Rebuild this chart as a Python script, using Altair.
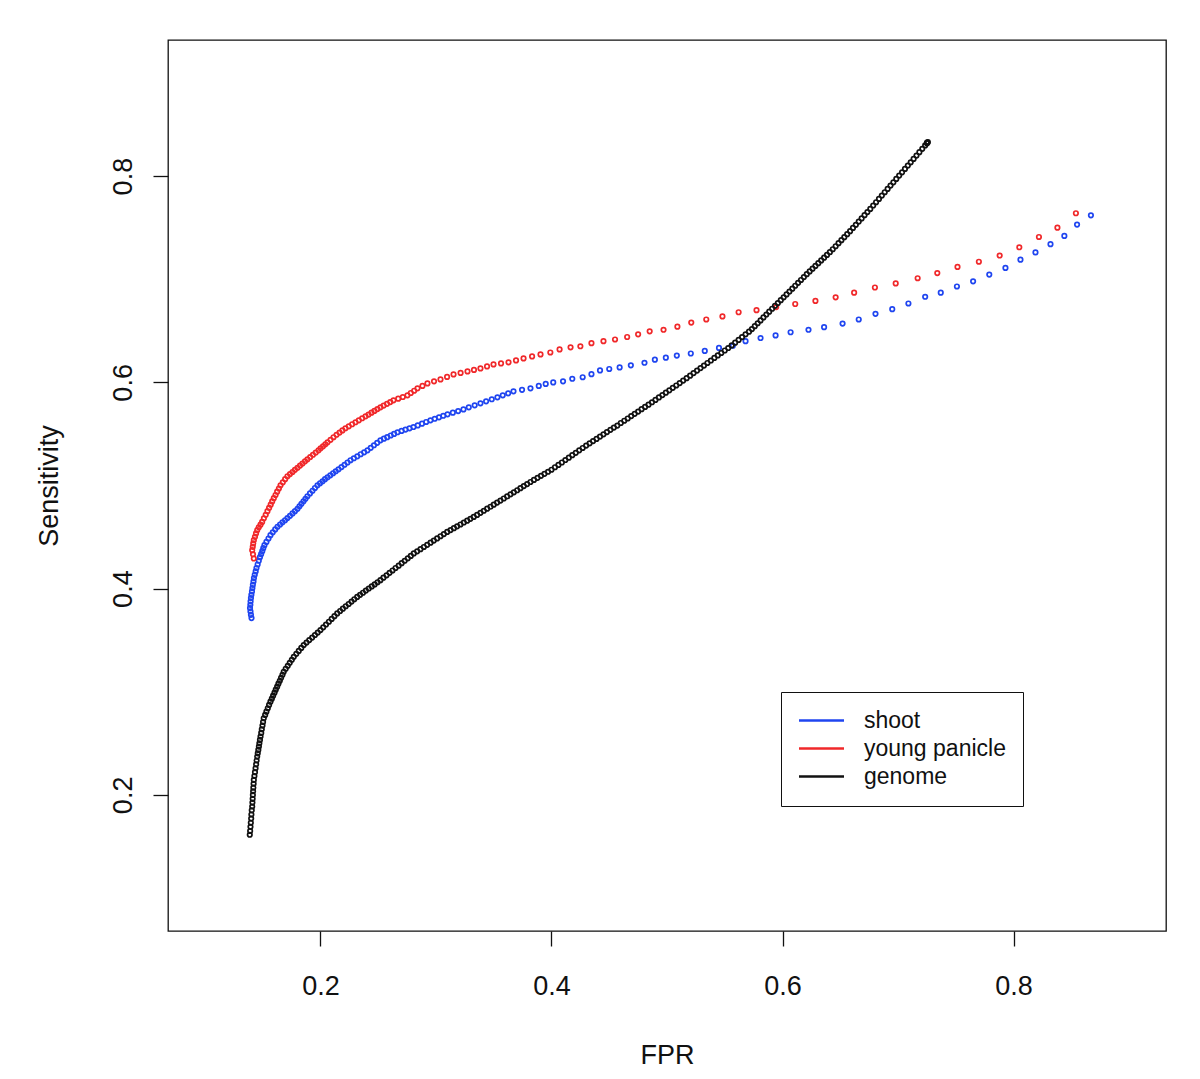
import altair as alt
import pandas as pd

# ---------------- data ----------------
series_names = ["shoot", "young panicle", "genome"]
series_colors = ["#1f45f0", "#f0282a", "#111111"]

genome_fpr = [
    0.1388, 0.1391, 0.1394, 0.1397, 0.1400, 0.1402, 0.1405, 0.1409, 0.1411, 0.1413,
    0.1415, 0.1417, 0.1419, 0.1421, 0.1423, 0.1428, 0.1433, 0.1438, 0.1443, 0.1447,
    0.1452, 0.1457, 0.1462, 0.1467, 0.1471, 0.1476, 0.1481, 0.1487, 0.1492, 0.1498,
    0.1503, 0.1509, 0.1521, 0.1532, 0.1544, 0.1555, 0.1567, 0.1579, 0.1590, 0.1602,
    0.1613, 0.1625, 0.1636, 0.1648, 0.1659, 0.1671, 0.1682, 0.1699, 0.1717, 0.1734,
    0.1752, 0.1769, 0.1791, 0.1812, 0.1834, 0.1855, 0.1879, 0.1903, 0.1928, 0.1952,
    0.1976, 0.2000, 0.2024, 0.2048, 0.2073, 0.2097, 0.2121, 0.2145, 0.2170, 0.2194,
    0.2219, 0.2244, 0.2269, 0.2293, 0.2318, 0.2343, 0.2368, 0.2393, 0.2418, 0.2444,
    0.2469, 0.2494, 0.2519, 0.2545, 0.2572, 0.2598, 0.2624, 0.2650, 0.2677, 0.2703,
    0.2729, 0.2756, 0.2782, 0.2808, 0.2837, 0.2866, 0.2895, 0.2924, 0.2953, 0.2981,
    0.3010, 0.3039, 0.3068, 0.3097, 0.3126, 0.3155, 0.3183, 0.3212, 0.3241, 0.3270,
    0.3298, 0.3327, 0.3356, 0.3385, 0.3414, 0.3443, 0.3472, 0.3500, 0.3529, 0.3558,
    0.3587, 0.3616, 0.3645, 0.3674, 0.3703, 0.3731, 0.3760, 0.3789, 0.3818, 0.3848,
    0.3879, 0.3909, 0.3939, 0.3970,
    0.400, 0.403, 0.406, 0.409, 0.412, 0.415, 0.418, 0.421, 0.424, 0.427,
    0.430, 0.433, 0.436, 0.439, 0.442, 0.445, 0.448, 0.451, 0.454, 0.457,
    0.460, 0.463, 0.466, 0.469, 0.472, 0.475, 0.478, 0.481, 0.484, 0.487,
    0.490, 0.493, 0.496, 0.499, 0.502, 0.505, 0.508, 0.511, 0.514, 0.517,
    0.520, 0.523, 0.526, 0.529, 0.532, 0.535, 0.538, 0.541, 0.544, 0.547,
    0.550, 0.553, 0.556, 0.559, 0.562, 0.565, 0.568, 0.571, 0.5735, 0.576,
    0.5785, 0.581, 0.5835, 0.586, 0.5885, 0.591, 0.5935, 0.596, 0.5985, 0.601,
    0.6035, 0.606, 0.6085, 0.611, 0.6135, 0.616, 0.6185, 0.621, 0.6235, 0.626,
    0.6285, 0.631, 0.6335, 0.636, 0.6385, 0.641, 0.6435, 0.646, 0.6485, 0.651,
    0.6535, 0.656, 0.6585, 0.661, 0.6635, 0.666, 0.6685, 0.671, 0.6735, 0.676,
    0.6785, 0.681, 0.6835, 0.686, 0.6885, 0.691, 0.6935, 0.696, 0.6985, 0.701,
    0.7035, 0.706, 0.7085, 0.711, 0.7135, 0.716, 0.7185, 0.721, 0.7235, 0.7255,
    0.7250, 0.7258, 0.7252,
]
genome_sens = [
    0.1613, 0.1650, 0.1690, 0.1730, 0.1770, 0.1810, 0.1850, 0.1887, 0.1925, 0.1962,
    0.2000, 0.2035, 0.2070, 0.2108, 0.2145, 0.2183, 0.2220, 0.2258, 0.2296, 0.2333,
    0.2371, 0.2403, 0.2436, 0.2468, 0.2500, 0.2533, 0.2565, 0.2601, 0.2636, 0.2672,
    0.2707, 0.2743, 0.2775, 0.2807, 0.2840, 0.2872, 0.2904, 0.2933, 0.2962, 0.2991,
    0.3020, 0.3049, 0.3078, 0.3107, 0.3136, 0.3165, 0.3194, 0.3223, 0.3252, 0.3281,
    0.3310, 0.3339, 0.3368, 0.3396, 0.3425, 0.3453, 0.3477, 0.3501, 0.3525, 0.3550,
    0.3574, 0.3598, 0.3625, 0.3652, 0.3679, 0.3706, 0.3733, 0.3760, 0.3783, 0.3806,
    0.3829, 0.3851, 0.3874, 0.3897, 0.3920, 0.3940, 0.3960, 0.3981, 0.4001, 0.4021,
    0.4041, 0.4062, 0.4082, 0.4106, 0.4129, 0.4153, 0.4176, 0.4200, 0.4223, 0.4247,
    0.4270, 0.4294, 0.4317, 0.4341, 0.4362, 0.4383, 0.4404, 0.4425, 0.4446, 0.4466,
    0.4487, 0.4508, 0.4529, 0.4550, 0.4568, 0.4586, 0.4604, 0.4622, 0.4641, 0.4659,
    0.4677, 0.4695, 0.4715, 0.4735, 0.4755, 0.4775, 0.4794, 0.4814, 0.4834, 0.4854,
    0.4874, 0.4894, 0.4914, 0.4934, 0.4954, 0.4974, 0.4994, 0.5014, 0.5034, 0.5054,
    0.5074, 0.5094, 0.5113, 0.5133,
    0.5153, 0.5177, 0.5200, 0.5223, 0.5247, 0.5270, 0.5294, 0.5317, 0.5341, 0.5364,
    0.5387, 0.5409, 0.5431, 0.5452, 0.5474, 0.5496, 0.5518, 0.5540, 0.5562, 0.5581,
    0.5606, 0.5628, 0.5650, 0.5673, 0.5695, 0.5717, 0.5740, 0.5762, 0.5784, 0.5807,
    0.5830, 0.5854, 0.5877, 0.5900, 0.5923, 0.5947, 0.5970, 0.5993, 0.6017, 0.6041,
    0.6065, 0.6090, 0.6114, 0.6139, 0.6163, 0.6188, 0.6212, 0.6237, 0.6261, 0.6285,
    0.6309, 0.6333, 0.6358, 0.6385, 0.6412, 0.6439, 0.6466, 0.6492, 0.6517, 0.6545,
    0.6573, 0.6601, 0.6630, 0.6658, 0.6686, 0.6714, 0.6742, 0.6769, 0.6797, 0.6825,
    0.6853, 0.6881, 0.6909, 0.6937, 0.6965, 0.6993, 0.7021, 0.7049, 0.7076, 0.7103,
    0.7129, 0.7156, 0.7183, 0.7209, 0.7236, 0.7263, 0.7291, 0.7320, 0.7350, 0.7379,
    0.7408, 0.7437, 0.7466, 0.7498, 0.7528, 0.7559, 0.7590, 0.7621, 0.7651, 0.7682,
    0.7715, 0.7747, 0.7779, 0.7811, 0.7844, 0.7876, 0.7908, 0.7940, 0.7973, 0.8005,
    0.8037, 0.8070, 0.8102, 0.8134, 0.8167, 0.8199, 0.8232, 0.8265, 0.8298, 0.8324,
    0.8320, 0.8330, 0.8326,
]

shoot_fpr = [
    0.1403, 0.1398, 0.1394, 0.1390, 0.1393, 0.1395, 0.1398, 0.1402, 0.1407, 0.1411,
    0.1415, 0.1420, 0.1424, 0.1431, 0.1439, 0.1446, 0.1456, 0.1466, 0.1476, 0.1486,
    0.1496, 0.1505, 0.1515, 0.1532, 0.1550, 0.1567, 0.1587, 0.1608, 0.1628, 0.1650,
    0.1671, 0.1693, 0.1714, 0.1736, 0.1758, 0.1779, 0.1801, 0.1818, 0.1835, 0.1853,
    0.1870, 0.1887, 0.1909, 0.1931, 0.1952, 0.1974, 0.1996, 0.2018, 0.2039, 0.2061,
    0.2085, 0.2109, 0.2132, 0.2156, 0.2182, 0.2208, 0.2234, 0.2260, 0.2289, 0.2319,
    0.2348, 0.2378, 0.2407, 0.2435, 0.2463, 0.2491, 0.2519, 0.2549, 0.2578, 0.2608,
    0.2637, 0.2667, 0.2702, 0.2736, 0.2771, 0.2805, 0.2842, 0.2879, 0.2915, 0.2952,
    0.2989, 0.3026, 0.3063, 0.3100, 0.3146, 0.3192, 0.3238, 0.3284, 0.3335, 0.3385,
    0.3434, 0.3483, 0.3532, 0.3578, 0.3625, 0.3671, 0.3745, 0.3818, 0.3890, 0.3950,
    0.4015, 0.4100, 0.4180, 0.4270, 0.4346, 0.4420, 0.4500, 0.4590, 0.4687, 0.4805,
    0.4895, 0.4990, 0.5085, 0.5206, 0.5327, 0.5450, 0.5570, 0.5680, 0.5810, 0.5940,
    0.6070, 0.6225, 0.6360, 0.6520, 0.6660, 0.6805, 0.6950, 0.7090, 0.7235, 0.7370,
    0.7510, 0.7650, 0.7790, 0.7930, 0.8060, 0.8190, 0.8320, 0.8440, 0.8550, 0.8670,
]
shoot_sens = [
    0.3714, 0.3746, 0.3779, 0.3811, 0.3843, 0.3876, 0.3908, 0.3940, 0.3973, 0.4005,
    0.4037, 0.4070, 0.4102, 0.4134, 0.4167, 0.4199, 0.4234, 0.4270, 0.4305, 0.4334,
    0.4363, 0.4392, 0.4421, 0.4453, 0.4486, 0.4518, 0.4546, 0.4574, 0.4600, 0.4622,
    0.4643, 0.4663, 0.4684, 0.4706, 0.4729, 0.4751, 0.4774, 0.4798, 0.4822, 0.4847,
    0.4871, 0.4896, 0.4923, 0.4949, 0.4976, 0.5002, 0.5022, 0.5041, 0.5061, 0.5080,
    0.5099, 0.5119, 0.5138, 0.5157, 0.5179, 0.5201, 0.5223, 0.5245, 0.5264, 0.5283,
    0.5303, 0.5322, 0.5341, 0.5365, 0.5390, 0.5414, 0.5438, 0.5454, 0.5469, 0.5485,
    0.5500, 0.5516, 0.5529, 0.5542, 0.5554, 0.5567, 0.5583, 0.5600, 0.5616, 0.5632,
    0.5647, 0.5661, 0.5676, 0.5690, 0.5706, 0.5722, 0.5738, 0.5758, 0.5777, 0.5797,
    0.5816, 0.5836, 0.5855, 0.5874, 0.5894, 0.5913, 0.5928, 0.5942, 0.5966, 0.5985,
    0.6000, 0.6010, 0.6035, 0.6050, 0.6080, 0.6116, 0.6130, 0.6145, 0.6165, 0.6190,
    0.6220, 0.6240, 0.6260, 0.6280, 0.6305, 0.6334, 0.6355, 0.6400, 0.6430, 0.6455,
    0.6486, 0.6510, 0.6535, 0.6570, 0.6610, 0.6665, 0.6710, 0.6765, 0.6830, 0.6870,
    0.6930, 0.6980, 0.7045, 0.7110, 0.7190, 0.7260, 0.7340, 0.7420, 0.7530, 0.7620,
]

panicle_fpr = [
    0.1423, 0.1416, 0.1409, 0.1414, 0.1418, 0.1423, 0.1433, 0.1442, 0.1452, 0.1466,
    0.1481, 0.1495, 0.1510, 0.1526, 0.1541, 0.1555, 0.1569, 0.1582, 0.1596, 0.1611,
    0.1625, 0.1640, 0.1654, 0.1674, 0.1694, 0.1714, 0.1736, 0.1758, 0.1779, 0.1801,
    0.1823, 0.1844, 0.1866, 0.1887, 0.1911, 0.1935, 0.1959, 0.1983, 0.2001, 0.2022,
    0.2042, 0.2061, 0.2087, 0.2113, 0.2139, 0.2165, 0.2190, 0.2216, 0.2245, 0.2274,
    0.2303, 0.2332, 0.2361, 0.2390, 0.2416, 0.2442, 0.2467, 0.2493, 0.2519, 0.2547,
    0.2576, 0.2604, 0.2632, 0.2673, 0.2713, 0.2753, 0.2782, 0.2811, 0.2840, 0.2883,
    0.2926, 0.2983, 0.3039, 0.3096, 0.3152, 0.3213, 0.3273, 0.3329, 0.3385, 0.3442,
    0.3498, 0.3563, 0.3628, 0.3693, 0.3758, 0.3832, 0.3905,
    0.3990, 0.4070, 0.4165, 0.4250, 0.4346, 0.4450, 0.4550, 0.4655, 0.4750, 0.4850,
    0.4970, 0.5090, 0.5210, 0.5340, 0.5480, 0.5620, 0.5775, 0.5945, 0.6110, 0.6285,
    0.6460, 0.6620, 0.6800, 0.6980, 0.7170, 0.7340, 0.7515, 0.7700, 0.7880, 0.8050,
    0.8220, 0.8380, 0.8540,
]
panicle_sens = [
    0.4292, 0.4333, 0.4373, 0.4405, 0.4438, 0.4470, 0.4502, 0.4535, 0.4567, 0.4594,
    0.4620, 0.4647, 0.4682, 0.4716, 0.4751, 0.4783, 0.4814, 0.4846, 0.4877, 0.4908,
    0.4940, 0.4971, 0.5002, 0.5031, 0.5061, 0.5090, 0.5111, 0.5131, 0.5152, 0.5172,
    0.5193, 0.5213, 0.5234, 0.5254, 0.5276, 0.5298, 0.5319, 0.5341, 0.5361, 0.5380,
    0.5400, 0.5419, 0.5443, 0.5468, 0.5492, 0.5513, 0.5534, 0.5555, 0.5574, 0.5594,
    0.5613, 0.5632, 0.5652, 0.5671, 0.5688, 0.5706, 0.5723, 0.5741, 0.5758, 0.5775,
    0.5792, 0.5809, 0.5826, 0.5842, 0.5858, 0.5874, 0.5897, 0.5919, 0.5942, 0.5966,
    0.5990, 0.6010, 0.6029, 0.6053, 0.6077, 0.6092, 0.6106, 0.6121, 0.6135, 0.6155,
    0.6174, 0.6184, 0.6194, 0.6213, 0.6232, 0.6252, 0.6271,
    0.6290, 0.6320, 0.6340, 0.6350, 0.6380, 0.6400, 0.6416, 0.6440, 0.6466, 0.6495,
    0.6510, 0.6540, 0.6580, 0.6610, 0.6640, 0.6680, 0.6700, 0.6730, 0.6760, 0.6790,
    0.6825, 0.6870, 0.6920, 0.6960, 0.7010, 0.7060, 0.7120, 0.7170, 0.7230, 0.7310,
    0.7410, 0.7500, 0.7640,
]

x_ticks = [0.2, 0.4, 0.6, 0.8]
y_ticks = [0.2, 0.4, 0.6, 0.8]
axis_domain = [0.068, 0.932]

# ---------------- table ----------------
rows = []
for name, xs, ys in [
    ("shoot", shoot_fpr, shoot_sens),
    ("young panicle", panicle_fpr, panicle_sens),
    ("genome", genome_fpr, genome_sens),
]:
    for xv, yv in zip(xs, ys):
        rows.append({"series": name, "FPR": xv, "Sensitivity": yv})
df = pd.DataFrame(rows)

FONT = "Liberation Sans"
INK = "#111111"

chart = (
    alt.Chart(df)
    .mark_point(filled=False, size=20, strokeWidth=1.7, opacity=1)
    .encode(
        x=alt.X(
            "FPR:Q",
            scale=alt.Scale(domain=axis_domain, nice=False, zero=False),
            axis=alt.Axis(
                values=x_ticks, format=".1f", title="FPR", domain=False, grid=False,
                tickSize=15, tickWidth=1.3, tickColor=INK,
                labelFont=FONT, labelFontSize=27, labelColor=INK,
                labelPadding=48, labelBaseline="alphabetic", labelAlign="center",
                labelFlush=False, labelOverlap=False,
                titleFont=FONT, titleFontSize=27, titleFontWeight="normal",
                titleColor=INK, titleY=132, titleBaseline="alphabetic",
            ),
        ),
        y=alt.Y(
            "Sensitivity:Q",
            scale=alt.Scale(domain=axis_domain, nice=False, zero=False),
            axis=alt.Axis(
                values=y_ticks, format=".1f", title="Sensitivity", domain=False, grid=False,
                tickSize=15, tickWidth=1.3, tickColor=INK,
                labelFont=FONT, labelFontSize=27, labelColor=INK,
                labelPadding=22, labelAngle=270, labelBaseline="alphabetic",
                labelAlign="center", labelFlush=False, labelOverlap=False,
                titleFont=FONT, titleFontSize=27, titleFontWeight="normal",
                titleColor=INK, titleX=-111, titleBaseline="alphabetic",
            ),
        ),
        color=alt.Color(
            "series:N",
            scale=alt.Scale(domain=series_names, range=series_colors),
            legend=alt.Legend(
                title=None, orient="none", legendX=613, legendY=652,
                direction="vertical",
                symbolType="M-1.4,0H4.6", symbolSize=225, symbolStrokeWidth=2.5,
                labelFont=FONT, labelFontSize=23, labelColor=INK,
                labelOffset=43, rowPadding=4, padding=17, labelLimit=400,
                strokeColor=INK, fillColor="white",
            ),
        ),
    )
    .properties(
        width=998,
        height=891,
        padding={"left": 160, "top": 32, "right": 20, "bottom": 140},
        autosize=alt.AutoSizeParams(type="none"),
        background="white",
    )
    .configure_view(stroke=INK, strokeWidth=1.3)
)

chart.save("out.html", embed_options={"renderer": "svg", "actions": False})
